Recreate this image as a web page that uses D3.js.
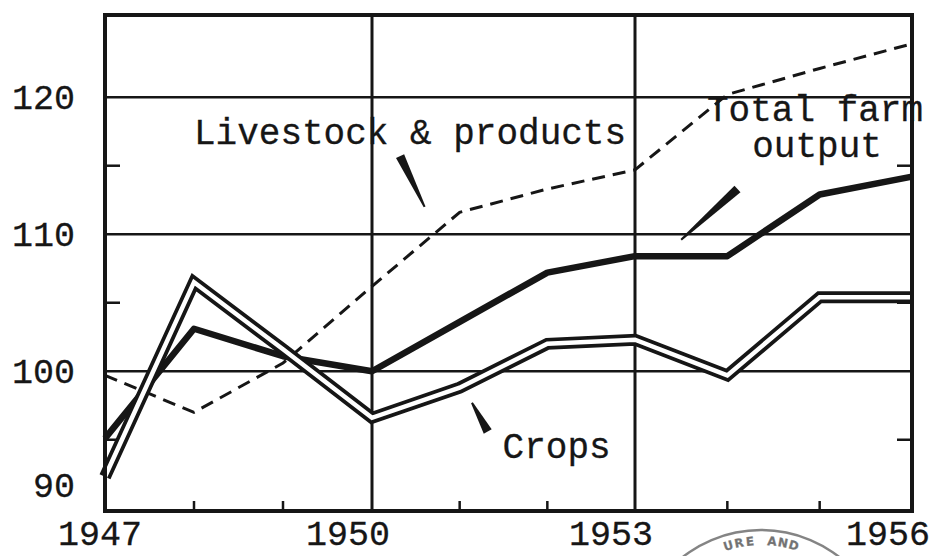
<!DOCTYPE html>
<html><head><meta charset="utf-8">
<script src="https://cdn.jsdelivr.net/npm/d3@7"></script>
<style>
body{margin:0;background:#fff}
text{font-family:"Liberation Mono","DejaVu Sans Mono",monospace;fill:#161616;stroke:#161616;stroke-width:0.3px}
</style>
</head><body>
<svg id="c" width="935" height="556"></svg>
<script>
// ---- data (index) ----
const years = [1947, 1948, 1949, 1950, 1951, 1952, 1953, 1954, 1955, 1956];
const totalOutput = [95.1, 103.1, 101.1, 100.0, 103.6, 107.2, 108.4, 108.4, 112.9, 114.2];
const crops       = [92.3, 106.5, 101.6, 96.6, 98.8, 102.0, 102.3, 99.7, 105.4, 105.4];
const livestock   = [99.7, 97.0, 100.6, 106.2, 111.6, 113.3, 114.7, 120.2, 122.1, 123.9];

const gridValues = [100, 110, 120];
const gridYears = [1950, 1953];
const minorValues = [95, 105, 115];
const minorYears = [1948, 1949, 1951, 1952, 1954, 1955];
const yTickLabels = [90, 100, 110, 120];
const xTickLabels = [1947, 1950, 1953, 1956];

// annotations in data units
const seriesLabels = [
  {text: "Livestock & products", year: 1948.0, value: 116.6},
  {text: "Total farm", year: 1953.78, value: 118.3},
  {text: "output", year: 1954.27, value: 115.6},
  {text: "Crops", year: 1951.49, value: 93.7}
];
const pointers = [
  {from: [1950.32, 115.7], to: [1950.6, 112.0]},
  {from: [1954.11, 113.3], to: [1953.5, 109.6]},
  {from: [1951.32, 95.6], to: [1951.14, 97.7]}
];
const stampText = "URE AND";

// ---- layout ----
const W = 935, H = 556;
const plot = {left: 105, right: 912, top: 15, bottom: 511};
const ink = "#161616";

// hand-ruled axis: the three-year divisions are not perfectly even
const x = d3.scaleLinear().domain([1947, 1950, 1953, 1956]).range([plot.left, 372, 635, plot.right]);
const y = d3.scaleLinear().domain([89.8, 126.0]).range([plot.bottom, plot.top]);

const svg = d3.select("#c");
svg.append("rect").attr("width", W).attr("height", H).attr("fill", "#fff");

const g = svg.append("g");

// grid lines
g.selectAll(".hg").data(gridValues).join("line")
  .attr("x1", plot.left).attr("x2", plot.right)
  .attr("y1", d => y(d)).attr("y2", d => y(d))
  .attr("stroke", ink).attr("stroke-width", 2.6);
g.selectAll(".vg").data(gridYears).join("line")
  .attr("y1", plot.top).attr("y2", plot.bottom)
  .attr("x1", d => x(d)).attr("x2", d => x(d))
  .attr("stroke", ink).attr("stroke-width", 3);

// minor ticks (inside frame)
g.selectAll(".lt").data(minorValues).join("line")
  .attr("x1", plot.left).attr("x2", plot.left + 15)
  .attr("y1", d => y(d)).attr("y2", d => y(d))
  .attr("stroke", ink).attr("stroke-width", 2.5);
g.selectAll(".rt").data(minorValues).join("line")
  .attr("x1", plot.right).attr("x2", plot.right - 15)
  .attr("y1", d => y(d)).attr("y2", d => y(d))
  .attr("stroke", ink).attr("stroke-width", 2.5);
g.selectAll(".bt").data(minorYears).join("line")
  .attr("x1", d => x(d)).attr("x2", d => x(d))
  .attr("y1", plot.bottom).attr("y2", plot.bottom - 10)
  .attr("stroke", ink).attr("stroke-width", 2.5);

// frame
g.append("rect")
  .attr("x", plot.left).attr("y", plot.top)
  .attr("width", plot.right - plot.left).attr("height", plot.bottom - plot.top)
  .attr("fill", "none").attr("stroke", ink).attr("stroke-width", 4);

// lines
const line = d3.line().x((d, i) => x(years[i])).y(d => y(d)).curve(d3.curveLinear);

g.append("path").datum(livestock).attr("d", line)
  .attr("fill", "none").attr("stroke", ink).attr("stroke-width", 3)
  .attr("stroke-dasharray", "13,8");

g.append("path").datum(totalOutput).attr("d", line)
  .attr("fill", "none").attr("stroke", ink).attr("stroke-width", 6.5)
  .attr("stroke-linejoin", "round");

g.append("path").datum(crops).attr("d", line)
  .attr("fill", "none").attr("stroke", ink).attr("stroke-width", 12)
  .attr("stroke-linejoin", "miter");
g.append("path").datum(crops).attr("d", line)
  .attr("fill", "none").attr("stroke", "#fff").attr("stroke-width", 4.5)
  .attr("stroke-linejoin", "miter");

// redraw frame sides on top of the line ends
g.append("line").attr("x1", plot.left).attr("x2", plot.left)
  .attr("y1", plot.top).attr("y2", plot.bottom).attr("stroke", ink).attr("stroke-width", 4);
g.append("line").attr("x1", plot.right).attr("x2", plot.right)
  .attr("y1", plot.top).attr("y2", plot.bottom).attr("stroke", ink).attr("stroke-width", 4);

// pointers (tapered wedges)
function wedge(p) {
  const [x1, y1] = [x(p.from[0]), y(p.from[1])];
  const [x2, y2] = [x(p.to[0]), y(p.to[1])];
  const dx = x2 - x1, dy = y2 - y1, L = Math.hypot(dx, dy);
  const nx = -dy / L, ny = dx / L;
  const w1 = 4.5, w2 = 1;
  return `M${x1 + nx * w1},${y1 + ny * w1}L${x2 + nx * w2},${y2 + ny * w2}L${x2 - nx * w2},${y2 - ny * w2}L${x1 - nx * w1},${y1 - ny * w1}Z`;
}
g.selectAll(".ptr").data(pointers).join("path")
  .attr("d", wedge).attr("fill", ink);

// series labels
g.selectAll(".sl").data(seriesLabels).join("text")
  .attr("x", d => x(d.year)).attr("y", d => y(d.value))
  .attr("font-size", 36).text(d => d.text);

// y tick labels
g.selectAll(".yl").data(yTickLabels).join("text")
  .attr("x", plot.left - 30)
  .attr("y", d => Math.min(y(d), plot.bottom - 26))
  .attr("dy", "0.35em")
  .attr("text-anchor", "end")
  .attr("font-size", 35).text(d => d);

// x tick labels
g.selectAll(".xl").data(xTickLabels).join("text")
  .attr("x", (d, i) => x(d) - (i === 0 ? 5 : 24))
  .attr("y", plot.bottom + 34)
  .attr("text-anchor", "middle")
  .attr("font-size", 35).text(d => d);

// partial library stamp at the bottom edge
const sc = {cx: 761, cy: 657, r: 127, rt: 112};
const stamp = svg.append("g").attr("opacity", 0.6);
stamp.append("path")
  .attr("d", d3.arc()({innerRadius: sc.r - 1.2, outerRadius: sc.r + 1.2, startAngle: -0.8, endAngle: 0.8}))
  .attr("transform", `translate(${sc.cx},${sc.cy})`)
  .attr("fill", "#333");
const chars = stampText.split("");
const step = 0.095;
stamp.selectAll(".sc").data(chars).join("text")
  .style("font-family", "'DejaVu Sans',sans-serif").style("stroke-width", "0.3px")
  .attr("font-size", 12).attr("font-weight", "bold")
  .attr("text-anchor", "middle")
  .attr("transform", (d, i) => {
    const a = (i - (chars.length - 1) / 2) * step;
    const px = sc.cx + sc.rt * Math.sin(a), py = sc.cy - sc.rt * Math.cos(a);
    return `translate(${px},${py}) rotate(${a * 180 / Math.PI})`;
  })
  .text(d => d);
</script>
</body></html>
